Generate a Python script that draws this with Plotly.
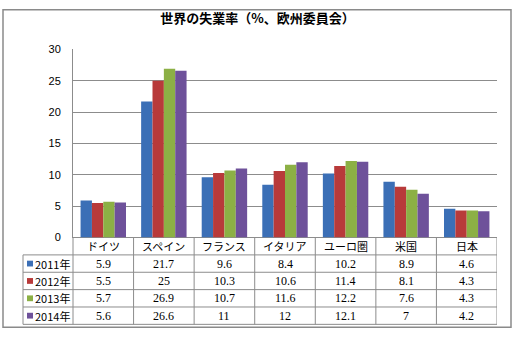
import plotly.graph_objects as go

categories = ["ドイツ", "スペイン", "フランス", "イタリア", "ユーロ圏", "米国", "日本"]
years = ["2011年", "2012年", "2013年", "2014年"]
v2011 = [5.9, 21.7, 9.6, 8.4, 10.2, 8.9, 4.6]
v2012 = [5.5, 25, 10.3, 10.6, 11.4, 8.1, 4.3]
v2013 = [5.7, 26.9, 10.7, 11.6, 12.2, 7.6, 4.3]
v2014 = [5.6, 26.6, 11, 12, 12.1, 7, 4.2]
series = [v2011, v2012, v2013, v2014]
colors = ["#3B6FB6", "#B83A3A", "#8CB045", "#6E519A"]
yticks = [0, 5, 10, 15, 20, 25, 30]

W, H = 515, 340
def py(y):  # pixel-from-top -> paper
    return (H - y) / H
def px(x):
    return x / W

X0, X1 = 73, 497
Y_TOP, Y_ZERO = 45, 240
ROW_H = 18
GRID = "#8C8C8C"

fig = go.Figure()
for name, vals, c in zip(years, series, colors):
    fig.add_trace(go.Bar(x=categories, y=vals, name=name, marker=dict(color=c, line=dict(width=0)), showlegend=False))

shapes = []
annotations = []
# outer border
shapes.append(dict(type="rect", xref="paper", yref="paper", x0=px(3), x1=px(511), y0=py(333), y1=py(4),
                   line=dict(color="#8A8A8A", width=1.5)))
# table horizontal lines
for i in range(len(years) + 1):
    y = Y_ZERO + ROW_H * (i + 1)
    shapes.append(dict(type="line", xref="paper", yref="paper", x0=px(23), x1=px(X1), y0=py(y), y1=py(y),
                       line=dict(color=GRID, width=1)))
# table vertical lines (category boundaries)
for k in range(len(categories)):
    shapes.append(dict(type="line", xref="x", yref="paper", x0=k + 0.5, x1=k + 0.5, y0=py(Y_ZERO), y1=py(Y_ZERO + ROW_H * 5),
                       line=dict(color=GRID, width=1)))
# left axis extended through table
shapes.append(dict(type="line", xref="paper", yref="paper", x0=px(X0), x1=px(X0), y0=py(Y_ZERO), y1=py(Y_ZERO + ROW_H * 5),
                   line=dict(color=GRID, width=1)))
shapes.append(dict(type="line", xref="paper", yref="paper", x0=px(23), x1=px(23), y0=py(Y_ZERO + ROW_H), y1=py(Y_ZERO + ROW_H * 5),
                   line=dict(color=GRID, width=1)))

# category header text
for cat in categories:
    annotations.append(dict(x=cat, xref="x", y=py(Y_ZERO + ROW_H / 2), yref="paper", text=cat, showarrow=False,
                            xanchor="center", yanchor="middle",
                            font=dict(family="Noto Sans CJK JP", size=11, color="#000")))
# rows
for i, (name, vals, c) in enumerate(zip(years, series, colors)):
    yc = Y_ZERO + ROW_H * (i + 1) + ROW_H / 2
    shapes.append(dict(type="rect", xref="paper", yref="paper", x0=px(27), x1=px(33), y0=py(yc + 3), y1=py(yc - 3),
                       fillcolor=c, line=dict(width=0)))
    annotations.append(dict(x=px(33), xref="paper", y=py(yc), yref="paper", text=name, showarrow=False,
                            xanchor="left", yanchor="middle",
                            font=dict(family="Noto Sans CJK JP", size=11, color="#000")))
    for cat, v in zip(categories, vals):
        annotations.append(dict(x=cat, xref="x", y=py(yc), yref="paper", text=f"{v:g}", showarrow=False,
                                xanchor="center", yanchor="middle",
                                font=dict(family="Liberation Serif", size=12, color="#000")))

fig.update_layout(
    width=W, height=H,
    margin=dict(l=0, r=0, t=0, b=0),
    paper_bgcolor="white", plot_bgcolor="white",
    barmode="group", bargap=0.25, bargroupgap=0,
    title=dict(text="<b>世界の失業率（%、欧州委員会）</b>", x=0.5, xanchor="center", y=py(18), yanchor="middle",
               font=dict(family="Noto Sans CJK JP", size=13, color="#000")),
    xaxis=dict(domain=[px(X0), px(X1)], range=[-0.5, 6.5], showticklabels=False, showgrid=False, zeroline=False,
               showline=False, ticks=""),
    yaxis=dict(domain=[py(Y_ZERO), py(Y_TOP)], range=[0, 30], tickvals=yticks, showgrid=True, gridcolor=GRID,
               gridwidth=1, zeroline=True, zerolinecolor=GRID, zerolinewidth=1, showline=True, linecolor=GRID, linewidth=1,
               ticks="", ticklabelstandoff=9, tickfont=dict(family="Liberation Sans", size=11, color="#000")),
    shapes=shapes, annotations=annotations,
)
fig.write_html("out.html")
